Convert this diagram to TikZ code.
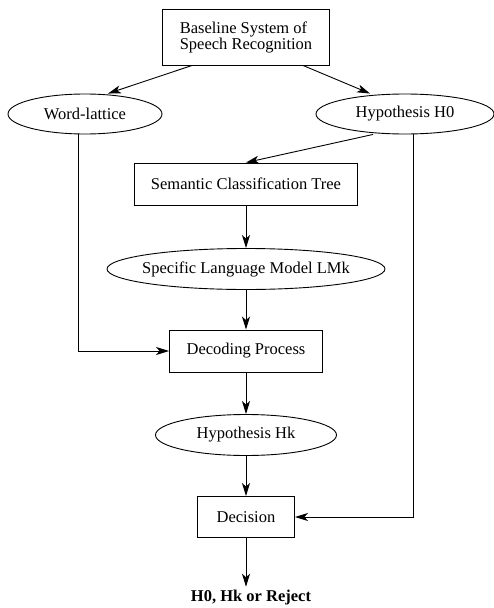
\documentclass[tikz,border=0pt]{standalone}
\usepackage{fontspec}
\setmainfont{Liberation Serif}
\usetikzlibrary{shapes.geometric,arrows.meta}

\begin{document}
\begin{tikzpicture}[x=1pt,y=1pt,->,>={Stealth[length=13pt,width=8pt,inset=3.5pt]},line width=0.9pt,node distance=80pt,
  box node/.style={rectangle,draw,font=\fontsize{16.5}{14}\selectfont},
  oval node/.style={ellipse,draw,inner sep=0pt,minimum height=40pt,font=\fontsize{16.5}{14}\selectfont}]
  \useasboundingbox (0,0) rectangle (494,-608);

  \node[box node,minimum width=167pt,minimum height=56pt,align=left] (base) at (246,-37) {Baseline System of\\Speech Recognition};
  \node[oval node,minimum width=154pt] (lattice) [node distance=77pt,below of=base,xshift=-161pt] {Word-lattice};
  \node[oval node,minimum width=178pt] (h0) [node distance=77pt,below of=base,xshift=159pt] {Hypothesis H0};
  \node[box node,minimum width=223pt,minimum height=42pt] (sct) [node distance=147pt,below of=base] {Semantic Classification Tree};
  \node[oval node,minimum width=278pt,minimum height=41pt,inner xsep=-6pt] (lm) [node distance=85pt,below of=sct] {Specific Language Model LMk};
  \node[box node,minimum width=153pt,minimum height=42pt] (dec) [node distance=82pt,below of=lm] {Decoding Process};
  \node[oval node,minimum width=181pt,minimum height=41pt] (hk) [node distance=84pt,below of=dec] {Hypothesis Hk};
  \node[box node,minimum width=97pt,minimum height=41pt] (decision) [node distance=82pt,below of=hk] {Decision};
  \node[font=\fontsize{16.5}{14}\selectfont\bfseries] (result) [node distance=81pt,below of=decision,xshift=5pt] {H0, Hk or Reject};

  \path
    ([xshift=-54pt]base.south) edge ([xshift=23pt]lattice.north)
    ([xshift=57pt]base.south) edge ([xshift=-35pt]h0.north)
    ([xshift=-32pt]h0.south) edge (sct.north)
    (sct) edge (lm)
    (lm) edge (dec)
    (dec) edge (hk)
    (hk) edge (decision)
    (decision) edge (decision.south |- result.north)
  ;

  \draw ([xshift=-7pt]lattice.south) |- (dec.west);
  \draw ([xshift=8pt]h0.south) |- (decision.east);

\end{tikzpicture}
\end{document}
